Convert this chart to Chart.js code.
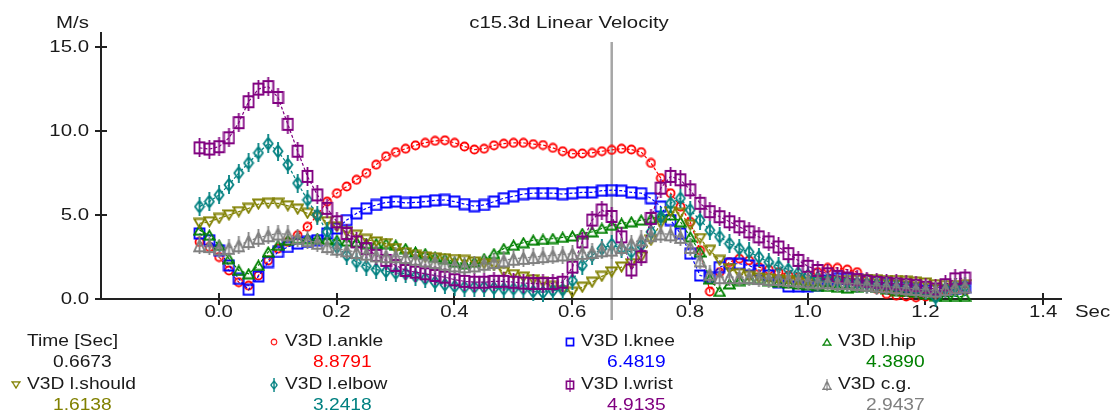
<!DOCTYPE html>
<html>
<head>
<meta charset="utf-8">
<title>c15.3d Linear Velocity</title>
<script src="https://cdn.jsdelivr.net/npm/chart.js@4.4.1/dist/chart.umd.min.js"></script>
<style>
  html, body { margin: 0; padding: 0; background: #fff; }
  #wrap { width: 1114px; height: 414px; }
</style>
</head>
<body>
<div id="wrap"><canvas id="chartVel" width="1114" height="414"></canvas></div>
<script>
// ─── Datos (60 Hz) ────────────────────────────────────────────
const tiempos = [
  -0.0327, -0.0160, 0.0006, 0.0173, 0.0340, 0.0506, 0.0673, 0.0840, 0.1006, 0.1173,
  0.1340, 0.1506, 0.1673, 0.1840, 0.2006, 0.2173, 0.2340, 0.2506, 0.2673, 0.2840,
  0.3006, 0.3173, 0.3340, 0.3506, 0.3673, 0.3840, 0.4006, 0.4173, 0.4340, 0.4506,
  0.4673, 0.4840, 0.5006, 0.5173, 0.5340, 0.5506, 0.5673, 0.5840, 0.6006, 0.6173,
  0.6340, 0.6506, 0.6673, 0.6840, 0.7006, 0.7173, 0.7340, 0.7506, 0.7673, 0.7840,
  0.8006, 0.8173, 0.8340, 0.8506, 0.8673, 0.8840, 0.9006, 0.9173, 0.9340, 0.9506,
  0.9673, 0.9840, 1.0006, 1.0173, 1.0340, 1.0506, 1.0673, 1.0840, 1.1006, 1.1173,
  1.1340, 1.1506, 1.1673, 1.1840, 1.2006, 1.2173, 1.2340, 1.2506, 1.2673
];

const ankle = [
  3.4, 3.1, 2.5, 1.7, 1.0, 0.8, 1.4, 2.3, 3.0, 3.4, 3.8, 4.3, 5.0, 5.8, 6.3, 6.7, 7.1, 7.5, 8.0, 8.5,
  8.75, 8.95, 9.15, 9.3, 9.42, 9.45, 9.3, 9.08, 8.9, 8.95, 9.15, 9.25, 9.3, 9.3, 9.22, 9.17, 9.0, 8.8, 8.65, 8.67,
  8.7, 8.8, 8.8791, 8.95, 8.9, 8.75, 8.1, 7.2, 6.3, 5.5, 4.6, 2.9, 0.45, 1.6, 2.2, 2.4, 2.3, 1.9, 1.75, 1.6,
  1.4, 1.3, 1.4, 1.6, 1.85, 1.85, 1.75, 1.6, 1.2, 0.6, 0.3, 0.2, 0.15, 0.1, 0.15, 0.3, 0.45, 0.55, 0.5
];
const knee = [
  3.9, 3.5, 2.9, 2.0, 1.2, 0.55, 1.35, 2.2, 2.8, 3.1, 3.3, 3.4, 3.5, 3.9, 4.2, 4.7, 5.1, 5.4, 5.6, 5.75,
  5.8, 5.72, 5.75, 5.8, 5.88, 5.9, 5.8, 5.65, 5.53, 5.6, 5.8, 6.0, 6.12, 6.25, 6.3, 6.3, 6.3, 6.25, 6.3, 6.35,
  6.35, 6.45, 6.4819, 6.45, 6.35, 6.3, 6.0, 5.5, 4.7, 3.9, 2.7, 1.4, 1.3, 1.9, 2.1, 2.1, 2.0, 1.7, 1.4, 1.0,
  0.75, 0.75, 0.75, 0.8, 1.1, 1.2, 1.2, 1.15, 1.1, 1.0, 0.9, 0.8, 0.7, 0.6, 0.5, 0.5, 0.5, 0.6, 0.7
];
const hip = [
  4.1, 3.8, 3.2, 2.4, 1.7, 1.5, 2.0, 2.8, 3.2, 3.5, 3.6, 3.6, 3.6, 3.55, 3.5, 3.45, 3.4, 3.3, 3.3, 3.3,
  3.2, 3.0, 2.8, 2.7, 2.5, 2.4, 2.2, 2.1, 2.2, 2.4, 2.7, 3.0, 3.2, 3.35, 3.5, 3.55, 3.6, 3.67, 3.75, 3.9,
  4.0, 4.2, 4.389, 4.5, 4.6, 4.7, 4.8, 4.9, 5.0, 4.6, 3.7, 2.8, 1.2, 0.45, 0.9, 1.1, 1.2, 1.2, 1.1, 1.0,
  0.95, 0.9, 0.85, 0.8, 0.75, 0.7, 0.65, 0.7, 0.75, 0.7, 0.6, 0.5, 0.45, 0.4, 0.3, 0.2, 0.15, 0.15, 0.15
];
const should = [
  4.5, 4.6, 4.8, 5.0, 5.2, 5.4, 5.65, 5.7, 5.7, 5.55, 5.35, 5.1, 4.85, 4.6, 4.3, 4.0, 3.8, 3.55, 3.4, 3.3,
  3.0, 2.75, 2.6, 2.5, 2.45, 2.4, 2.35, 2.3, 2.2, 2.1, 2.0, 1.6, 1.45, 1.3, 1.15, 1.0, 0.75, 0.5, 0.4, 0.7,
  1.0, 1.35, 1.6138, 1.9, 2.1, 2.5, 3.5, 4.5, 5.2, 5.1, 4.4, 3.6, 2.9, 2.3, 1.8, 1.5, 1.35, 1.25, 1.2, 1.15,
  1.1, 1.05, 1.0, 1.0, 1.0, 1.05, 1.1, 1.15, 1.15, 1.15, 1.1, 1.1, 1.05, 1.0, 0.95, 0.85, 0.8, 0.8, 0.85
];
const elbow = [
  5.5, 5.8, 6.2, 6.8, 7.5, 8.1, 8.7, 9.25, 8.8, 8.0, 6.9, 5.9, 5.0, 4.0, 3.1, 2.6, 2.2, 1.95, 1.75, 1.65,
  1.55, 1.5, 1.35, 1.2, 1.0, 0.85, 0.75, 0.7, 0.7, 0.7, 0.65, 0.6, 0.6, 0.6, 0.45, 0.4, 0.5, 0.55, 1.1, 2.0,
  2.6, 3.0, 3.2418, 3.0, 2.8, 3.2, 4.0, 4.9, 5.7, 6.0, 5.3, 4.7, 4.1, 3.7, 3.3, 3.0, 2.8, 2.5, 2.2, 1.95,
  1.75, 1.55, 1.4, 1.25, 1.15, 1.05, 1.0, 0.95, 0.9, 0.85, 0.8, 0.75, 0.7, 0.6, 0.5, 0.1, 0.6, 0.7, 0.75
];
const wrist = [
  9.0, 8.93, 9.07, 9.6, 10.5, 11.75, 12.5, 12.65, 12.0, 10.4, 8.8, 7.3, 6.2, 5.4, 4.6, 3.9, 3.4, 3.0, 2.6, 2.3,
  2.0, 1.7, 1.6, 1.5, 1.4, 1.3, 1.15, 1.05, 1.0, 1.0, 1.05, 1.05, 1.0, 0.95, 0.92, 0.92, 0.92, 1.0, 1.9, 3.4,
  4.7, 5.3, 4.9135, 3.7, 1.73, 2.52, 4.8, 6.6, 7.3, 7.1, 6.5, 5.7, 5.2, 4.9, 4.6, 4.3, 4.0, 3.7, 3.4, 3.1,
  2.7, 2.3, 1.95, 1.7, 1.5, 1.35, 1.25, 1.15, 1.05, 1.0, 0.95, 0.9, 0.85, 0.8, 0.7, 0.6, 0.85, 1.2, 1.25
];
const cg = [
  3.2, 3.15, 3.0, 3.05, 3.2, 3.45, 3.65, 3.8, 3.9, 3.85, 3.65, 3.5, 3.35, 3.15, 3.0, 2.9, 2.8, 2.7, 2.6, 2.55,
  2.55, 2.5, 2.4, 2.3, 2.2, 2.1, 2.0, 1.95, 2.0, 2.1, 2.2, 2.3, 2.4, 2.45, 2.5, 2.55, 2.6, 2.65, 2.7, 2.75,
  2.8, 2.9, 2.9437, 3.1, 3.3, 3.55, 3.8, 3.9, 3.85, 3.7, 3.1, 2.3, 1.5, 1.3, 1.3, 1.3, 1.3, 1.25, 1.2, 1.2,
  1.15, 1.1, 1.05, 1.0, 1.0, 0.95, 0.95, 0.9, 0.85, 0.8, 0.75, 0.7, 0.65, 0.6, 0.55, 0.5, 0.6, 0.7, 0.75
];

const cursorTime = 0.6673;
const xTicks = [0.0, 0.2, 0.4, 0.6, 0.8, 1.0, 1.2, 1.4];
const yTicks = [0, 5, 10, 15];

const series = [
  { label: "V3D l.ankle",  data: ankle,  color: "#ff0000", marker: "circle" },
  { label: "V3D l.knee",   data: knee,   color: "#0000ff", marker: "square" },
  { label: "V3D l.hip",    data: hip,    color: "#008000", marker: "triUp" },
  { label: "V3D l.should", data: should, color: "#808000", marker: "triDown" },
  { label: "V3D l.elbow",  data: elbow,  color: "#008080", marker: "diamondBar" },
  { label: "V3D l.wrist",  data: wrist,  color: "#800080", marker: "squareBar" },
  { label: "V3D c.g.",     data: cg,     color: "#808080", marker: "triBar" },
];

// ─── Marcadores ───────────────────────────────────────────────
function makeMarker(kind, color) {
  const sizes = {
    circle: [11, 11], square: [13, 13], triUp: [13, 12], triDown: [13, 12],
    diamondBar: [12, 19], squareBar: [13, 19], triBar: [13, 18],
  };
  const [w, h] = sizes[kind];
  const c = document.createElement("canvas");
  c.width = w; c.height = h;
  const g = c.getContext("2d");
  g.strokeStyle = color;
  g.lineWidth = 1.8;
  g.beginPath();
  if (kind === "circle") {
    g.arc(w / 2, h / 2, 4, 0, Math.PI * 2);
  } else if (kind === "square") {
    g.rect(1.5, 1.5, w - 3, h - 3);
  } else if (kind === "triUp") {
    g.moveTo(w / 2, 1.5); g.lineTo(w - 1.2, h - 1.5); g.lineTo(1.2, h - 1.5); g.closePath();
  } else if (kind === "triDown") {
    g.moveTo(1.2, 1.5); g.lineTo(w - 1.2, 1.5); g.lineTo(w / 2, h - 1.5); g.closePath();
  } else if (kind === "diamondBar") {
    g.moveTo(w / 2, 3.5); g.lineTo(w - 1.5, h / 2); g.lineTo(w / 2, h - 3.5); g.lineTo(1.5, h / 2); g.closePath();
    g.moveTo(w / 2, 0); g.lineTo(w / 2, h);
  } else if (kind === "squareBar") {
    g.rect(1.5, 4, w - 3, h - 8);
    g.moveTo(w / 2, 0); g.lineTo(w / 2, h);
  } else if (kind === "triBar") {
    g.moveTo(w / 2, 3.5); g.lineTo(w - 1.2, h - 3); g.lineTo(1.2, h - 3); g.closePath();
    g.moveTo(w / 2, 0); g.lineTo(w / 2, h);
  }
  g.stroke();
  return c;
}
const marcadores = series.map(s => makeMarker(s.marker, s.color));

// ─── Texto estirado (fuente del original es más ancha) ────────
const STRETCH = 1.2;
function texto(ctx, str, x, y, opts = {}) {
  const { size = 16, color = "#1a1a1a", align = "left" } = opts;
  ctx.save();
  ctx.font = size + "px 'Liberation Sans', Arial, sans-serif";
  ctx.fillStyle = color;
  ctx.textBaseline = "middle";
  ctx.textAlign = "left";
  const w = ctx.measureText(str).width * STRETCH;
  let x0 = x;
  if (align === "right") x0 = x - w;
  else if (align === "center") x0 = x - w / 2;
  ctx.translate(x0, y);
  ctx.scale(STRETCH, 1);
  ctx.fillText(str, 0, 0);
  ctx.restore();
}

// ─── Ejes, cursor, título y leyenda ───────────────────────────
const AXIS_COLOR = "#222";
const cursorIdx = tiempos.findIndex(t => Math.abs(t - cursorTime) < 1e-4);

const ejesPlugin = {
  id: "ejes",
  beforeDatasetsDraw(chart) {
    const { ctx, chartArea: a, scales: { x, y } } = chart;
    ctx.save();

    // cursor de tiempo
    const cx = x.getPixelForValue(cursorTime);
    ctx.strokeStyle = "#a6a6a6";
    ctx.lineWidth = 2.5;
    ctx.beginPath();
    ctx.moveTo(cx, a.top + 10);
    ctx.lineTo(cx, a.bottom + 21);
    ctx.stroke();

    // ejes
    ctx.strokeStyle = AXIS_COLOR;
    ctx.lineWidth = 2;
    ctx.beginPath();
    ctx.moveTo(a.left, a.top);
    ctx.lineTo(a.left, a.bottom);
    ctx.lineTo(a.right, a.bottom);
    ctx.stroke();

    // marcas que cruzan el eje
    ctx.beginPath();
    yTicks.forEach(v => {
      const py = Math.round(y.getPixelForValue(v));
      ctx.moveTo(a.left - 6, py);
      ctx.lineTo(a.left + 6, py);
    });
    xTicks.forEach(v => {
      const px = Math.round(x.getPixelForValue(v));
      ctx.moveTo(px, a.bottom - 6);
      ctx.lineTo(px, a.bottom + 6);
    });
    ctx.stroke();
    ctx.restore();

    yTicks.forEach(v => texto(ctx, v.toFixed(1), a.left - 12, y.getPixelForValue(v), { size: 17, align: "right" }));
    xTicks.forEach(v => texto(ctx, v.toFixed(1), x.getPixelForValue(v), a.bottom + 13, { size: 17, align: "center" }));
    texto(ctx, "M/s", 56, 23, { size: 17 });
    texto(ctx, "Sec", 1075, a.bottom + 13, { size: 17 });
    texto(ctx, "c15.3d Linear Velocity", 569, 23, { size: 17, align: "center" });
  },
  afterDraw(chart) {
    const { ctx } = chart;
    const colX = [[27, 53], [285, 313], [581, 607], [838, 866]];
    const rowY = [342, 385];
    const valOff = 21;

    // celda fija: tiempo del cursor
    texto(ctx, "Time [Sec]", colX[0][0], rowY[0]);
    texto(ctx, cursorTime.toFixed(4), colX[0][1], rowY[0] + valOff);

    const celdas = [[0, 1], [0, 2], [0, 3], [1, 0], [1, 1], [1, 2], [1, 3]];
    series.forEach((s, k) => {
      const [r, c] = celdas[k];
      const tx = colX[c][0];
      const ty = rowY[r];
      const img = marcadores[k];
      const sc = 0.7;
      ctx.drawImage(img, tx - 11 - img.width * sc / 2, ty - img.height * sc / 2, img.width * sc, img.height * sc);
      texto(ctx, s.label, tx, ty);
      texto(ctx, s.data[cursorIdx].toFixed(4), colX[c][1], ty + valOff, { color: s.color });
    });
  }
};

// ─── Gráfico ──────────────────────────────────────────────────
const datasets = series.map((s, k) => ({
  label: s.label,
  data: tiempos.map((t, i) => ({ x: t, y: s.data[i] })),
  borderColor: s.color,
  backgroundColor: s.color,
  borderWidth: 1.2,
  borderDash: [3, 2],
  pointStyle: marcadores[k],
  pointRadius: 5,
  pointHoverRadius: 5,
  fill: false,
  tension: 0,
  clip: false,
  order: series.length - 1 - k,
}));

new Chart(document.getElementById("chartVel"), {
  type: "line",
  data: { datasets },
  options: {
    responsive: false,
    animation: false,
    events: [],
    layout: { padding: { left: 101, right: 52, top: 32, bottom: 115 } },
    plugins: { legend: { display: false }, tooltip: { enabled: false }, title: { display: false } },
    scales: {
      x: { type: "linear", min: -0.2, max: 1.432, display: false },
      y: { type: "linear", min: 0, max: 15.9, display: false },
    },
  },
  plugins: [ejesPlugin],
});
</script>
</body>
</html>
